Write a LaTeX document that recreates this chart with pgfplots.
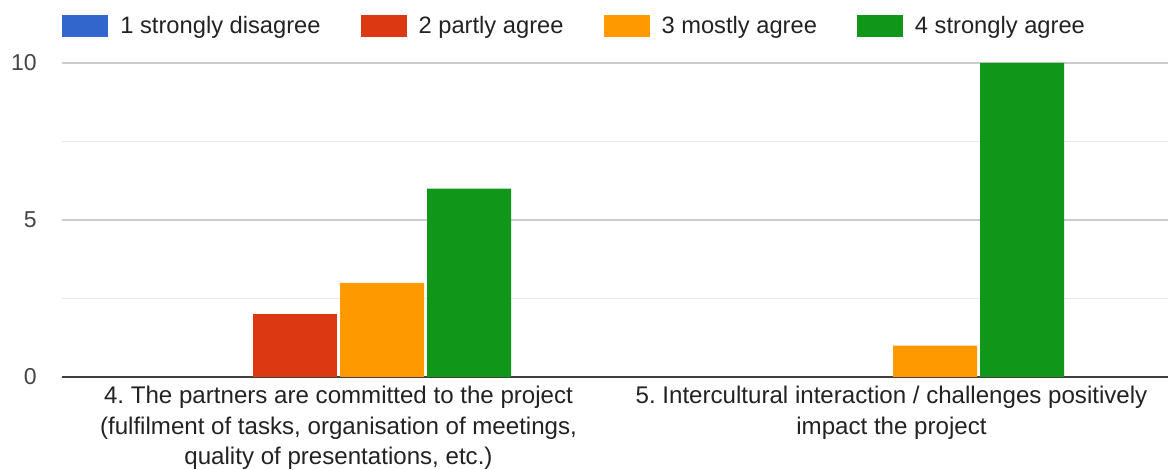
\documentclass[border=0pt]{standalone}
\usepackage{pgfplots}
\pgfplotsset{compat=1.18}
\usepackage{fontspec}
\setmainfont{Liberation Sans}
\frenchspacing
\definecolor{gblue}{HTML}{3366CC}
\definecolor{gred}{HTML}{DC3912}
\definecolor{gorange}{HTML}{FF9900}
\definecolor{ggreen}{HTML}{109618}
\definecolor{gtext}{HTML}{222222}
\definecolor{gtick}{HTML}{444444}
\begin{document}
\begin{tikzpicture}
\path[use as bounding box] (-31pt,-46.5pt) rectangle (553pt,188.5pt);
\begin{axis}[
  at={(0,0)}, anchor=south west, scale only axis,
  width=553pt, height=157pt,
  ymin=0, ymax=10, xmin=-0.5, xmax=1.5,
  ybar=1.5pt, bar width=42pt,
  unbounded coords=discard,
  /pgf/number format/assume math mode=true,
  xtick={0,1},
  xticklabels={{4. The partners are committed to the project\\(fulfilment of tasks, organisation of meetings,\\quality of presentations, etc.)},{5. Intercultural interaction / challenges positively\\impact the project}},
  xticklabel style={align=center, font={\fontsize{12.05pt}{15.3pt}\selectfont\frenchspacing}, text=gtext, inner sep=0pt, anchor=north, yshift=-4.4pt},
  ytick={0,5,10}, minor ytick={2.5,7.5},
  yticklabel style={font={\fontsize{11.5pt}{13pt}\selectfont}, text=gtick, inner sep=0pt, anchor=east, xshift=-12.5pt},
  ymajorgrids, yminorgrids,
  major grid style={draw=black!20, line width=0.7pt},
  minor grid style={draw=black!9, line width=0.6pt},
  extra y ticks={0}, extra y tick labels={},
  extra y tick style={major grid style={draw=black!75, line width=1pt}},
  axis line style={draw=none},
  major tick length=0pt, minor tick length=0pt,
  tick style={draw=none},
  legend columns=4,
  legend image code/.code={\fill[#1] (0pt,-5.5pt) rectangle (23pt,5.5pt);},
  legend style={draw=none, fill=none, at={(rel axis cs:0,1.1178)}, anchor=west,
    inner sep=0pt, font={\fontsize{11.85pt}{13pt}\selectfont}, text=gtext,
    nodes={inner xsep=6pt, inner ysep=0pt},
    /tikz/every even column/.append style={column sep=14pt}},
]
\addlegendimage{fill=gblue, draw=none}
\addplot[fill=gblue, draw=none] coordinates {(0,nan) (1,nan)};
\addplot[fill=gred, draw=none] coordinates {(0,2) (1,nan)};
\addplot[fill=gorange, draw=none] coordinates {(0,3) (1,1)};
\addplot[fill=ggreen, draw=none] coordinates {(0,6) (1,10)};
\legend{1 strongly disagree, 2 partly agree, 3 mostly agree, 4 strongly agree}
\end{axis}
\end{tikzpicture}
\end{document}
